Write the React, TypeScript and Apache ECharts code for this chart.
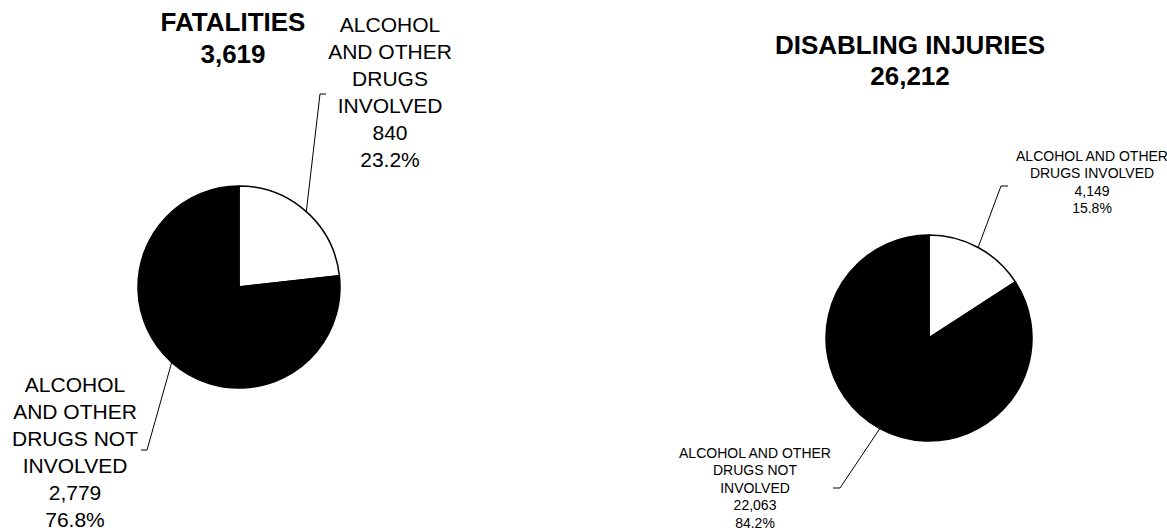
import React, { useEffect, useRef } from "react";
import * as echarts from "echarts";

// ---- data ----
const chartTitles = ["FATALITIES", "DISABLING INJURIES"];
const sliceNames = ["Alcohol and other drugs involved", "Alcohol and other drugs not involved"];
const fatalValues = [840, 2779];
const injuryValues = [4149, 22063];
const fatalLabelLines = [
  ["ALCOHOL", "AND OTHER", "DRUGS", "INVOLVED"],
  ["ALCOHOL", "AND OTHER", "DRUGS NOT", "INVOLVED"],
];
const injuryLabelLines = [
  ["ALCOHOL AND OTHER", "DRUGS INVOLVED"],
  ["ALCOHOL AND OTHER", "DRUGS NOT", "INVOLVED"],
];
const sliceColors = ["#ffffff", "#000000"];

const FONT = 'Arial, "Liberation Sans", Helvetica, sans-serif';

const fmt = (n: number) => n.toLocaleString("en-US");
const sum = (a: number[]) => a.reduce((s, v) => s + v, 0);

// ---- layout (positions only) ----
const fatalLayout = [
  { x: 390, y: 11, corner: [320, 94], end: [326, 94] },
  { x: 75, y: 371, corner: [147, 450], end: [141, 450] },
];
const injuryLayout = [
  { x: 1092, y: 147, corner: [1001, 186], end: [1008, 186] },
  { x: 755, y: 444, corner: [840, 488], end: [833, 488] },
];

function makeSeries(
  values: number[],
  labelLines: string[][],
  layout: any[],
  center: number[],
  radius: number,
  fontSize: number,
  lineHeight: number
) {
  const total = sum(values);
  return {
    type: "pie",
    center,
    radius,
    startAngle: 90,
    clockwise: true,
    avoidLabelOverlap: false,
    silent: true,
    emphasis: { disabled: true },
    data: values.map((v, i) => ({
      value: v,
      name: sliceNames[i],
      itemStyle: { color: sliceColors[i], borderColor: "#000", borderWidth: 1.5 },
    })),
    label: {
      show: true,
      position: "outside",
      color: "#000",
      fontFamily: FONT,
      fontSize,
      lineHeight,
      align: "center",
      formatter: (p: any) =>
        [...labelLines[p.dataIndex], fmt(p.value), ((p.value / total) * 100).toFixed(1) + "%"].join("\n"),
    },
    labelLine: {
      show: true,
      smooth: false,
      length: 10,
      length2: 10,
      lineStyle: { color: "#000", width: 1 },
    },
    labelLayout: (params: any) => {
      const pos = layout[params.dataIndex];
      const start =
        params.labelLinePoints && params.labelLinePoints[0]
          ? params.labelLinePoints[0]
          : pos.corner;
      return {
        x: pos.x,
        y: pos.y,
        align: "center",
        verticalAlign: "top",
        labelLinePoints: [start, pos.corner, pos.end],
      };
    },
  };
}

export default function App() {
  const ref = useRef<HTMLDivElement>(null);

  useEffect(() => {
    document.body.style.margin = "0";
    if (!ref.current) return;
    const chart = echarts.init(ref.current, null, { renderer: "svg" });
    const fatalTotal = sum(fatalValues);
    const injuryTotal = sum(injuryValues);
    chart.setOption({
      animation: false,
      backgroundColor: "#ffffff",
      graphic: [
        {
          type: "text",
          x: 233,
          y: 6,
          style: {
            text: chartTitles[0] + "\n" + fmt(fatalTotal),
            font: `bold 26px ${FONT}`,
            lineHeight: 32,
            textAlign: "center",
            textVerticalAlign: "top",
            fill: "#000",
          },
        },
        {
          type: "text",
          x: 910,
          y: 29,
          style: {
            text: chartTitles[1] + "\n" + fmt(injuryTotal),
            font: `bold 26px ${FONT}`,
            lineHeight: 31,
            textAlign: "center",
            textVerticalAlign: "top",
            fill: "#000",
          },
        },
      ],
      series: [
        makeSeries(fatalValues, fatalLabelLines, fatalLayout, [239, 287], 101, 21, 27),
        makeSeries(injuryValues, injuryLabelLines, injuryLayout, [929, 338], 103, 14, 17.5),
      ],
    });
    return () => chart.dispose();
  }, []);

  return (
    <div
      ref={ref}
      style={{ position: "absolute", left: 0, top: 0, width: 1167, height: 531, background: "#fff" }}
    />
  );
}
